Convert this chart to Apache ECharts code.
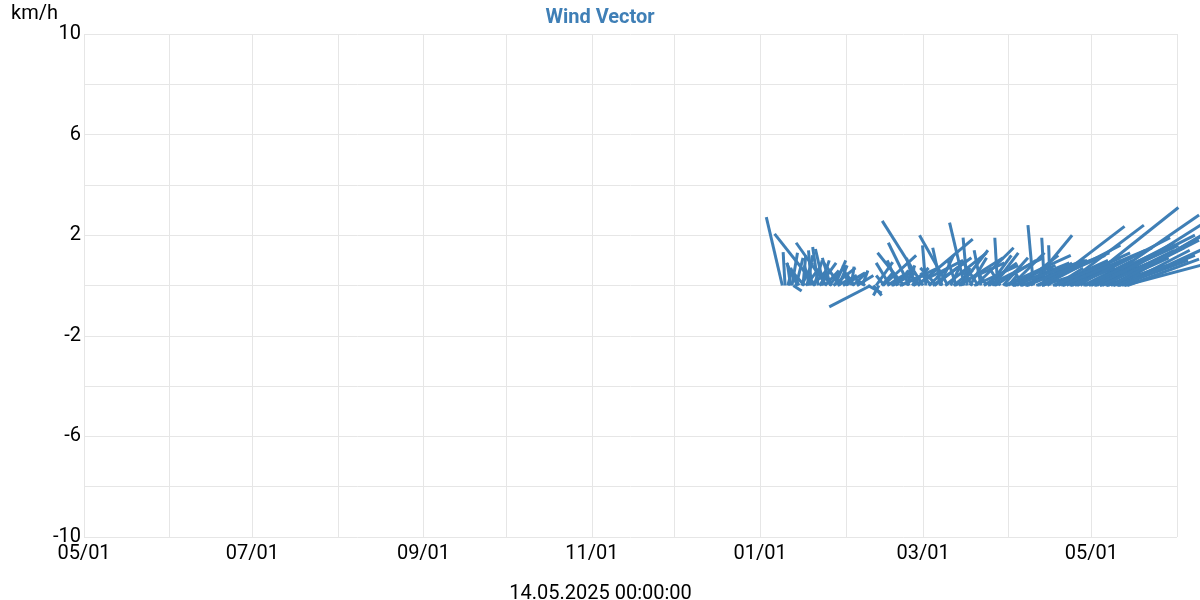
<!DOCTYPE html>
<html>
<head>
<meta charset="utf-8">
<script src="https://cdn.jsdelivr.net/npm/echarts@6/dist/echarts.min.js"></script>
<style>html,body{margin:0;padding:0;background:#fff}#c{width:1200px;height:600px}</style>
</head>
<body>
<div id="c"></div>
<script>
// ---- data ----
const xMin = '2024-05-01';
const xMax = '2025-06-01';
const yTickLabels = [-10, -6, -2, 2, 6, 10];
// vector start days (00:00), eastward offset (days on the time axis) and northward value (km/h)
const startDates = [
'2025-01-09','2025-01-10','2025-01-11','2025-01-12','2025-01-13','2025-01-14','2025-01-15','2025-01-16','2025-01-17','2025-01-18',
'2025-01-19','2025-01-20','2025-01-21','2025-01-22','2025-01-23','2025-01-24','2025-01-25','2025-01-26','2025-01-27','2025-01-28',
'2025-01-29','2025-01-30','2025-01-31','2025-02-01','2025-02-02','2025-02-03','2025-02-04','2025-02-05','2025-02-06','2025-02-07',
'2025-02-08','2025-02-09','2025-02-10','2025-02-11','2025-02-12','2025-02-13','2025-02-14','2025-02-15','2025-02-16','2025-02-17',
'2025-02-18','2025-02-19','2025-02-20','2025-02-21','2025-02-22','2025-02-23','2025-02-24','2025-02-25','2025-02-26','2025-02-27',
'2025-02-28','2025-03-01','2025-03-02','2025-03-03','2025-03-04','2025-03-05','2025-03-06','2025-03-07','2025-03-08','2025-03-09',
'2025-03-10','2025-03-11','2025-03-12','2025-03-13','2025-03-14','2025-03-15','2025-03-16','2025-03-17','2025-03-18','2025-03-19',
'2025-03-20','2025-03-21','2025-03-22','2025-03-23','2025-03-24','2025-03-25','2025-03-26','2025-03-27','2025-03-28','2025-03-29',
'2025-03-30','2025-03-31','2025-04-01','2025-04-02','2025-04-03','2025-04-04','2025-04-05','2025-04-06','2025-04-07','2025-04-08',
'2025-04-09','2025-04-10','2025-04-11','2025-04-12','2025-04-13','2025-04-14','2025-04-15','2025-04-16','2025-04-17','2025-04-18',
'2025-04-19','2025-04-20','2025-04-21','2025-04-22','2025-04-23','2025-04-24','2025-04-25','2025-04-26','2025-04-27','2025-04-28',
'2025-04-29','2025-04-30','2025-05-01','2025-05-02','2025-05-03','2025-05-04','2025-05-05','2025-05-06','2025-05-07','2025-05-08',
'2025-05-09','2025-05-10','2025-05-11','2025-05-12','2025-05-13','2025-05-14'
];
const uDays = [
-5.8,-0.7,1.5,-1.2,3,2.5,-3,4,-4,2,
-2,5,-14.8,-2,3,-3,-11,6,-5,4,
7,-6,8,3,-2,1,-3,6,-1,2,
-4,5,-15,3,6,-2,4,-3,10,-5,
7,5,-4,8,-9.5,3,-7.6,6,-3,20,
-5,-14.8,-1.2,8,-4,12,-6,5,-2,15,
-10.3,4,7,-3,16,3,-5.4,-1.5,6,-4,
13.8,-6,-2.5,12,-3,8,5,15,-1,-4,
9,18,3,12,20,6,14,-3,22,9,
15,-2,25,12,18,-1,28,-0.5,20,10,
26,8,29,15,22,6,28,12,35.5,18,
24,10,30,20,37,15,26,36,22,32,
18,34,25,24.6,27.5,26
];
const vVals = [
2.72,1.33,0.6,0.9,-0.22,1.1,0.7,0.9,0.5,1.2,
0.8,0.6,2.05,1.53,1.0,1.45,1.7,0.8,0.6,1.0,
0.4,0.9,0.5,0.3,0.8,0.75,0.5,0.4,0.15,0.6,
0.3,-0.3,-0.85,-0.4,0.93,-0.4,0.5,0.4,0.7,0.9,
0.6,0.5,1.0,0.4,1.3,0.8,1.7,0.7,1.1,1.84,
0.6,2.57,1.6,0.8,0.5,1.0,0.7,1.2,0.4,1.3,
2.0,0.9,0.6,1.0,1.1,0.7,2.5,1.9,1.1,0.6,
1.5,1.0,1.4,0.9,0.5,1.2,0.6,1.0,1.9,0.7,
1.1,0.8,0.4,1.3,0.9,0.5,1.2,0.6,1.0,0.7,
2.0,2.4,1.2,0.9,0.6,1.9,2.35,1.6,1.0,0.7,
1.3,0.5,2.4,0.9,1.1,0.4,1.5,0.8,3.1,1.0,
1.2,0.6,1.7,0.9,2.8,0.7,1.4,2.5,1.1,1.8,
0.8,2.2,1.0,1.4,0.8,1.05
];
// extra readings at 12:00
const startDatesNoon = [
'2025-01-12','2025-01-14','2025-01-16','2025-01-17','2025-01-19','2025-01-20','2025-01-22','2025-01-24','2025-01-26','2025-01-27',
'2025-01-29','2025-02-03','2025-02-14','2025-02-17','2025-02-20','2025-02-25','2025-03-04','2025-03-07','2025-03-12','2025-03-14',
'2025-03-19','2025-03-24','2025-03-26','2025-03-30','2025-04-02','2025-04-05','2025-04-07','2025-04-11','2025-04-13','2025-04-17',
'2025-04-20','2025-04-23','2025-04-25','2025-04-28','2025-04-30','2025-05-02','2025-05-04','2025-05-06','2025-05-08','2025-05-10',
'2025-05-12'
];
const uDaysNoon = [
2,-4,1,5,-1,3,6,5,-3,8,
3,5,12,9,14,18,14,-3,18,10,
16,20,9,24,26,22,30,18,28,24,
30,16,34,26,32,36,30,22,38,28,
34
];
const vValsNoon = [
1.3,0.9,1.2,0.7,1.4,1.0,0.9,0.6,1.1,0.7,
0.8,0.5,1.2,0.5,0.7,1.0,1.1,1.5,0.9,1.4,
0.8,1.1,1.3,1.2,1.0,0.8,1.3,1.0,1.6,1.1,
1.4,0.7,1.9,1.3,1.6,2.0,1.5,0.8,2.3,1.2,
1.7
];
const titleText = 'Wind Vector';
const yName = 'km/h';
const xName = '14.05.2025 00:00:00';

// ---- chart ----
const DAY = 86400000;
function ts(s, h){ const p = s.split('-').map(Number); return new Date(p[0], p[1]-1, p[2], h || 0).getTime(); }
const segData = startDates.map((d, i) => { const t = ts(d); return [t, t + uDays[i]*DAY, vVals[i]]; })
  .concat(startDatesNoon.map((d, i) => { const t = ts(d, 12); return [t, t + uDaysNoon[i]*DAY, vValsNoon[i]]; }));
const color = '#3f7fb6';
const textColor = '#000';
const font = 'Roboto, "Noto Sans", sans-serif';
const chart = echarts.init(document.getElementById('c'), null, {renderer: 'canvas'});
chart.setOption({
  animation: false,
  title: { text: titleText, left: 'center', top: 3, textStyle: { color: '#3f7fb6', fontSize: 20, fontWeight: 'bold', fontFamily: font } },
  grid: { left: 84, right: 23, top: 34, bottom: 63, containLabel: false, outerBoundsMode: 'none' },
  xAxis: {
    type: 'time', min: ts(xMin), max: ts(xMax),
    minInterval: 28*DAY, maxInterval: 31*DAY,
    name: xName, nameLocation: 'middle', nameGap: 47,
    nameTextStyle: { fontSize: 20, color: textColor, fontFamily: font, padding: [0, 60, 0, 0] },
    axisLine: { show: false }, axisTick: { show: false },
    splitLine: { show: true, lineStyle: { color: '#e6e6e6', width: 1 } },
    axisLabel: {
      fontSize: 20, color: textColor, fontFamily: font, margin: 7, hideOverlap: false,
      formatter: function (v) { const d = new Date(v); const m = d.getMonth() + 1; if (m % 2 === 0) return ''; return (m < 10 ? '0' : '') + m + '/' + (d.getDate() < 10 ? '0' : '') + d.getDate(); }
    }
  },
  yAxis: {
    type: 'value', min: -10, max: 10, interval: 2,
    name: yName, nameLocation: 'end', nameGap: 4,
    nameTextStyle: { fontSize: 20, color: textColor, fontFamily: font, align: 'right', padding: [0, 26, 0, 0] },
    axisLine: { show: false }, axisTick: { show: false },
    splitLine: { show: true, lineStyle: { color: '#e6e6e6', width: 1 } },
    axisLabel: {
      fontSize: 20, color: textColor, fontFamily: font, margin: 3, padding: [7, 0, 0, 0],
      formatter: function (v) { return yTickLabels.indexOf(v) >= 0 ? String(v) : ''; }
    }
  },
  series: [{
    type: 'custom', clip: false,
    encode: { x: [0, 1], y: 2 },
    data: segData,
    renderItem: function (params, api) {
      const p0 = api.coord([api.value(0), 0]);
      const p1 = api.coord([api.value(1), api.value(2)]);
      return { type: 'line', shape: { x1: p0[0], y1: p0[1], x2: p1[0], y2: p1[1] }, style: { stroke: color, lineWidth: 3 } };
    }
  }]
});
</script>
</body>
</html>
